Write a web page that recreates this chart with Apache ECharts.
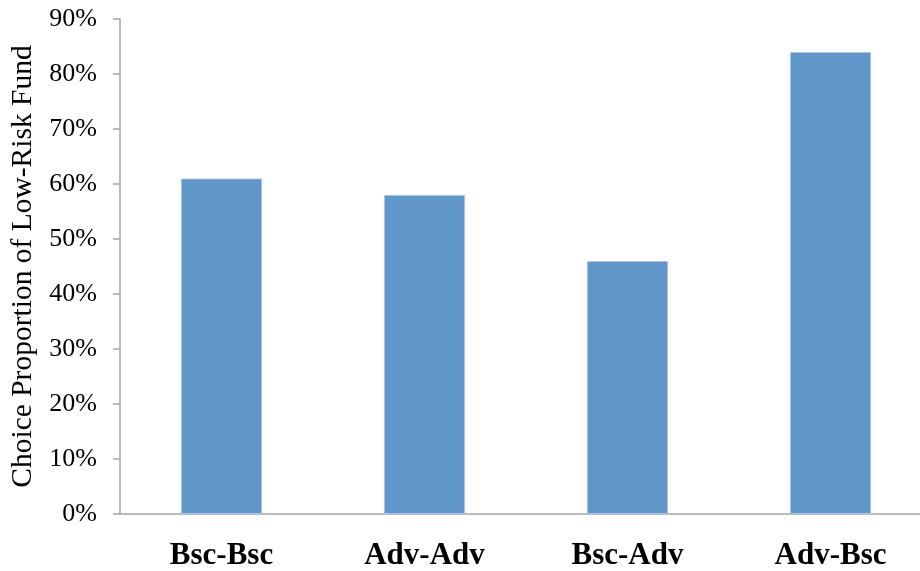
<!DOCTYPE html>
<html><head><meta charset="utf-8">
<script src="https://cdn.jsdelivr.net/npm/echarts@6/dist/echarts.min.js"></script>
<style>html,body{margin:0;padding:0;background:#fff}#c{width:920px;height:571px}</style>
</head><body><div id="c"></div>
<script>
const categories = ['Bsc-Bsc', 'Adv-Adv', 'Bsc-Adv', 'Adv-Bsc'];
const values = [61, 58, 46, 84];
const yTicks = [0, 10, 20, 30, 40, 50, 60, 70, 80, 90];

const chart = echarts.init(document.getElementById('c'));
chart.setOption({
  animation: false,
  grid: { left: 120, right: -12, top: 19, bottom: 57, containLabel: false, outerBoundsMode: 'none' },
  xAxis: {
    type: 'category',
    data: categories,
    axisLine: { lineStyle: { color: '#a6a6a6', width: 1.5 } },
    axisTick: { show: false },
    axisLabel: { margin: 26, fontFamily: 'Liberation Serif', fontSize: 31, fontWeight: 'bold', color: '#000' }
  },
  yAxis: {
    type: 'value',
    min: yTicks[0], max: yTicks[yTicks.length - 1], interval: 10,
    name: 'Choice Proportion of Low-Risk Fund',
    nameLocation: 'middle', nameGap: 82,
    nameTextStyle: { fontFamily: 'Liberation Serif', fontSize: 29.5, color: '#000' },
    axisLine: { show: true, lineStyle: { color: '#a6a6a6', width: 1.5 } },
    axisTick: { show: true, length: 7, lineStyle: { color: '#a6a6a6', width: 1.5 } },
    splitLine: { show: false },
    axisLabel: { margin: 23, fontFamily: 'Liberation Serif', fontSize: 26, color: '#000', formatter: v => v + '%' }
  },
  series: [{
    type: 'bar',
    data: values,
    barWidth: '40%',
    itemStyle: { color: '#6096c9', borderColor: '#a9c4e4', borderWidth: 1 }
  }]
});
</script></body></html>
